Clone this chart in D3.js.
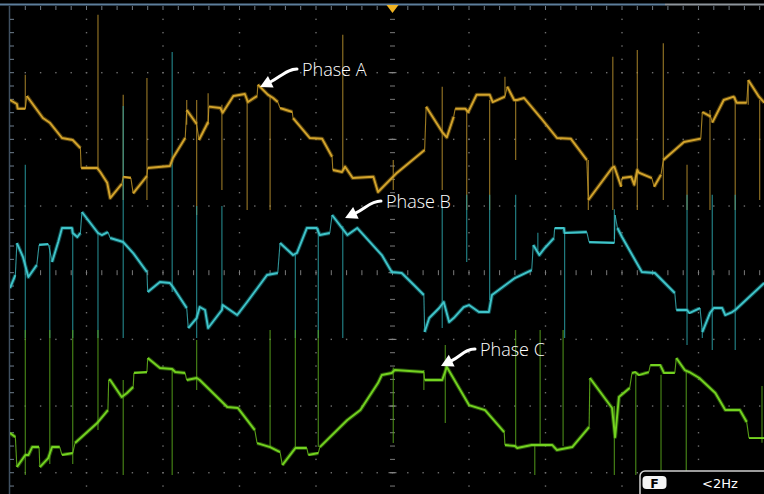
<!DOCTYPE html>
<html>
<head>
<meta charset="utf-8">
<script src="https://cdn.jsdelivr.net/npm/d3@7"></script>
<style>
html,body{margin:0;padding:0;background:#000;overflow:hidden;}
svg{display:block;}
</style>
</head>
<body>
<svg id="chart" width="764" height="494"></svg>
<script>
// ---- Data (x in horizontal divisions, y in vertical divisions, 0 = screen centre) ----
const phaseA = [[0,2.59],[0.09,2.53],[0.10,2.46],[0.20,2.46],[0.22,2.65],[0.43,2.32],[0.52,2.25],[0.68,2.02],[0.82,1.99],[0.92,1.87],[0.93,1.57],[1.14,1.57],[1.18,1.51],[1.27,1.35],[1.31,1.12],[1.46,1.33],[1.48,1.44],[1.58,1.42],[1.61,1.19],[1.79,1.45],[1.80,1.57],[2.09,1.60],[2.13,1.72],[2.29,2.02],[2.31,2.44],[2.44,2.23],[2.47,1.99],[2.59,2.26],[2.60,2.49],[2.75,2.47],[2.78,2.40],[2.92,2.65],[3.07,2.68],[3.11,2.56],[3.23,2.65],[3.24,2.82],[3.37,2.67],[3.44,2.62],[3.50,2.56],[3.53,2.47],[3.69,2.41],[3.70,2.32],[3.92,2.02],[4.08,2.01],[4.21,1.74],[4.22,1.54],[4.34,1.51],[4.38,1.59],[4.48,1.42],[4.75,1.44],[4.81,1.21],[5.06,1.50],[5.42,1.84],[5.44,2.49],[5.65,2.11],[5.71,2.03],[5.80,2.34],[5.82,2.46],[5.95,2.46],[5.99,2.41],[6.10,2.67],[6.27,2.67],[6.31,2.56],[6.47,2.64],[6.50,2.79],[6.59,2.59],[6.63,2.59],[6.72,2.62],[6.94,2.32],[7.15,2.02],[7.33,2.01],[7.54,1.69],[7.56,1.09],[7.87,1.57],[7.90,1.59],[7.99,1.29],[8.00,1.42],[8.12,1.44],[8.16,1.32],[8.20,1.54],[8.22,1.50],[8.39,1.42],[8.42,1.29],[8.51,1.47],[8.54,1.69],[8.81,1.96],[9.03,2.01],[9.05,2.41],[9.16,2.34],[9.18,2.25],[9.33,2.59],[9.46,2.64],[9.50,2.55],[9.63,2.55],[9.65,2.89],[9.79,2.64],[9.86,2.55]];

const phaseB = [[0,-0.23],[0.07,-0.035],[0.09,0.445],[0.17,0.235],[0.24,-0.065],[0.35,0.115],[0.38,0.415],[0.50,0.43],[0.52,0.34],[0.55,0.16],[0.63,0.46],[0.68,0.67],[0.81,0.67],[0.82,0.595],[0.88,0.535],[0.92,0.595],[0.94,0.91],[1.15,0.595],[1.20,0.565],[1.28,0.61],[1.31,0.52],[1.48,0.46],[1.61,0.295],[1.79,0.01],[1.80,-0.29],[1.96,-0.14],[2.09,-0.155],[2.13,-0.215],[2.31,-0.53],[2.33,-0.83],[2.44,-0.68],[2.48,-0.515],[2.55,-0.56],[2.59,-0.83],[2.77,-0.56],[2.78,-0.485],[2.97,-0.635],[3.10,-0.44],[3.36,-0.035],[3.50,-0.005],[3.53,0.445],[3.70,0.265],[3.75,0.295],[3.88,0.67],[4.01,0.67],[4.05,0.565],[4.18,0.595],[4.21,0.865],[4.34,0.67],[4.41,0.565],[4.54,0.67],[4.86,0.265],[4.99,0.01],[5.12,-0.005],[5.28,-0.185],[5.41,-0.335],[5.42,-0.89],[5.48,-0.68],[5.61,-0.53],[5.67,-0.44],[5.74,-0.74],[5.80,-0.68],[5.93,-0.515],[6.00,-0.485],[6.13,-0.59],[6.26,-0.59],[6.30,-0.335],[6.60,-0.08],[6.82,0.04],[6.84,0.415],[6.92,0.265],[6.99,0.37],[7.11,0.52],[7.12,0.67],[7.24,0.67],[7.25,0.595],[7.54,0.61],[7.57,0.46],[7.90,0.445],[7.91,0.865],[7.94,0.67],[8.00,0.535],[8.26,0.01],[8.43,-0.005],[8.69,-0.305],[8.71,-0.56],[8.85,-0.56],[8.88,-0.605],[9.02,-0.53],[9.05,-0.89],[9.15,-0.605],[9.20,-0.53],[9.31,-0.53],[9.35,-0.635],[9.44,-0.59],[9.48,-0.56],[9.86,-0.155]];

const phaseC = [[0,-2.405],[0.07,-2.465],[0.09,-2.915],[0.20,-2.735],[0.24,-2.735],[0.29,-2.615],[0.38,-2.615],[0.39,-2.915],[0.50,-2.78],[0.55,-2.615],[0.65,-2.615],[0.68,-2.735],[0.82,-2.705],[0.85,-2.555],[1.14,-2.255],[1.15,-2.24],[1.28,-2.06],[1.29,-1.61],[1.31,-1.61],[1.46,-1.865],[1.53,-1.805],[1.61,-1.715],[1.62,-1.505],[1.79,-1.49],[1.80,-1.28],[1.96,-1.43],[2.12,-1.445],[2.16,-1.49],[2.29,-1.505],[2.31,-1.61],[2.44,-1.58],[2.48,-1.61],[2.84,-2.015],[2.98,-2.03],[3.20,-2.36],[3.23,-2.555],[3.40,-2.615],[3.53,-2.69],[3.56,-2.885],[3.73,-2.63],[3.88,-2.63],[3.90,-2.735],[4.03,-2.705],[4.05,-2.615],[4.41,-2.21],[4.58,-2.06],[4.81,-1.655],[4.86,-1.535],[4.99,-1.505],[5.03,-1.46],[5.41,-1.49],[5.42,-1.61],[5.65,-1.61],[5.71,-1.415],[6.00,-1.985],[6.21,-2.06],[6.46,-2.39],[6.47,-2.585],[6.60,-2.60],[6.63,-2.63],[6.82,-2.585],[6.93,-2.585],[7.09,-2.585],[7.15,-2.66],[7.35,-2.615],[7.57,-2.315],[7.58,-1.58],[7.87,-2.03],[7.91,-2.465],[7.96,-1.865],[8.10,-1.73],[8.13,-1.505],[8.17,-1.49],[8.22,-1.535],[8.35,-1.49],[8.37,-1.385],[8.50,-1.385],[8.55,-1.505],[8.69,-1.505],[8.71,-1.28],[8.82,-1.46],[8.88,-1.49],[9.01,-1.58],[9.22,-1.805],[9.35,-2.06],[9.54,-2.06],[9.63,-2.24],[9.66,-2.48],[9.86,-2.48]];

// switching spikes: [x, top, bottom]
const spikesA = [[0.20,2.97,2.46],[1.15,3.87,1.54],[1.48,2.67,1.09],[1.79,2.92,1.09],[2.31,2.59,2.22],[2.44,2.59,0.865],[2.59,2.69,2.22],[2.77,2.52,1.24],[3.10,2.59,0.94],[3.40,2.64,0.94],[4.35,3.57,1.54],[5.01,1.69,1.24],[5.65,2.79,1.24],[5.97,2.44,0.94],[6.27,2.59,0.94],[6.47,2.94,2.64],[6.61,2.59,1.69],[7.56,1.69,0.94],[7.88,3.24,0.94],[8.20,3.34,0.94],[8.54,3.44,1.09],[8.85,1.62,0.94],[9.15,2.44,0.94],[9.48,2.64,0.94],[9.65,2.89,2.52],[9.80,2.59,1.09]];
const spikesB = [[0.20,1.62,-0.98],[0.52,0.415,-0.98],[0.82,0.67,-0.98],[1.15,0.61,-0.98],[1.48,2.5,-0.98],[2.12,3.31,-0.29],[2.44,1.0,-0.98],[2.77,1.0,-0.53],[3.73,0.265,-0.98],[4.03,0.67,-0.98],[4.35,0.7,-0.98],[5.65,1.0,-0.83],[5.97,1.17,0.16],[6.27,1.17,-0.41],[6.61,1.17,0.19],[6.90,0.6,0.34],[7.25,0.6,-0.98],[7.90,0.95,0.5],[8.85,1.17,-1.085],[9.05,-0.83,-0.98],[9.18,1.17,-1.16],[9.48,1.17,-1.16]];
const spikesC = [[0.20,-0.86,-3.035],[0.52,-0.86,-2.87],[0.82,-0.86,-2.87],[1.15,-0.86,-2.36],[1.48,-1.61,-3.035],[2.12,-1.46,-3.035],[2.44,-1.01,-1.76],[3.40,-0.86,-2.615],[3.73,-0.86,-2.615],[4.03,-0.86,-2.615],[5.01,-1.42,-2.555],[5.41,-1.46,-1.76],[5.69,-1.085,-2.255],[6.61,-0.86,-2.615],[6.86,-2.585,-3.035],[6.93,-0.86,-2.6],[7.23,-0.86,-2.6],[7.90,-2.0,-3.035],[8.18,-1.53,-3.035],[8.51,-1.53,-3.035],[8.84,-1.46,-3.035],[9.83,-1.7,-2.55]];

const labels = ["Phase A", "Phase B", "Phase C"];
const labelPos = [[3.817, 2.95], [4.915, 0.97], [6.144, -1.25]];
const arrowTips = [[3.268, 2.785], [4.38, 0.82], [5.634, -1.40]];

const majorX = d3.range(0, 11, 1);
const majorY = d3.range(-4, 5, 1);
const minorX = d3.range(0, 10.001, 0.2);
const minorY = d3.range(-4, 4.001, 0.2);

const statusTag = "F";
const statusText = "<2Hz";

// ---- Scales ----
const W = 764, H = 494;
const x = d3.scaleLinear().domain([0, 10]).range([10, 775]);
const y = d3.scaleLinear().domain([4, -4]).range([6, 539.4]);

const svg = d3.select("#chart");
svg.append("rect").attr("width", W).attr("height", H).attr("fill", "#000");

const defs = svg.append("defs");
defs.append("clipPath").attr("id", "plot")
  .append("rect").attr("x", x(0)).attr("y", y(4)).attr("width", W - x(0)).attr("height", H - y(4));
defs.append("filter").attr("id", "soft").append("feGaussianBlur").attr("stdDeviation", 0.7);

// ---- Graticule ----
const grid = svg.append("g");
const visY = minorY.filter(v => y(v) <= H && v < 4);
const visX = minorX.filter(v => x(v) <= W && v > 0);

majorX.filter(v => v > 0 && v !== 5 && x(v) < W).forEach(X => {
  grid.selectAll(null).data(visY).enter().append("rect")
    .attr("x", x(X) - 0.7).attr("y", d => y(d) - 0.7)
    .attr("width", 1.4).attr("height", 1.4).attr("fill", "#6e6e6e");
});
majorY.filter(v => v < 4 && v !== 0 && y(v) < H).forEach(Y => {
  grid.selectAll(null).data(visX).enter().append("rect")
    .attr("x", d => x(d) - 0.7).attr("y", y(Y) - 0.7)
    .attr("width", 1.4).attr("height", 1.4).attr("fill", "#6e6e6e");
});
grid.selectAll(null).data(visY).enter().append("line")
  .attr("x1", x(5) - 2.5).attr("x2", x(5) + 2.5)
  .attr("y1", d => y(d)).attr("y2", d => y(d))
  .attr("stroke", "#7a7a7a").attr("stroke-width", 1);
grid.selectAll(null).data(visX).enter().append("line")
  .attr("y1", y(0) - 2.5).attr("y2", y(0) + 2.5)
  .attr("x1", d => x(d)).attr("x2", d => x(d))
  .attr("stroke", "#7a7a7a").attr("stroke-width", 1);
grid.selectAll(null).data(majorY.filter(v => v < 4 && y(v) < H)).enter().append("line")
  .attr("x1", x(5) - 4).attr("x2", x(5) + 4)
  .attr("y1", d => y(d)).attr("y2", d => y(d))
  .attr("stroke", "#8a8a8a").attr("stroke-width", 1);

svg.append("line").attr("x1", x(0) - 0.5).attr("x2", x(0) - 0.5).attr("y1", y(4)).attr("y2", H)
  .attr("stroke", "#3f4f60").attr("stroke-width", 1.5);
svg.selectAll(null).data(visY).enter().append("line")
  .attr("x1", x(0)).attr("x2", x(0) + 4)
  .attr("y1", d => y(d)).attr("y2", d => y(d))
  .attr("stroke", "#6f7f8f").attr("stroke-width", 1);

svg.append("line").attr("x1", 0).attr("x2", 665).attr("y1", 4.5).attr("y2", 4.5)
  .attr("stroke", "#5d7e9c").attr("stroke-width", 2);
svg.append("line").attr("x1", 665).attr("x2", W).attr("y1", 4.5).attr("y2", 4.5)
  .attr("stroke", "#8e959c").attr("stroke-width", 2);
svg.selectAll(null).data(visX).enter().append("line")
  .attr("x1", d => x(d)).attr("x2", d => x(d))
  .attr("y1", y(4)).attr("y2", y(4) + 4)
  .attr("stroke", "#707a84").attr("stroke-width", 1);

// ---- Traces ----
const plot = svg.append("g").attr("clip-path", "url(#plot)");
const line = d3.line().x(d => x(d[0])).y(d => y(d[1]));

const channels = [
  {data: phaseA, spikes: spikesA, core: "#d3a42c", glow: "#9c7618", spike: "#b08a2c"},
  {data: phaseB, spikes: spikesB, core: "#40c4c9", glow: "#1d8d93", spike: "#2a9ca2"},
  {data: phaseC, spikes: spikesC, core: "#74d220", glow: "#4c9a12", spike: "#56a01c"}
];

// split a trace into continuous runs and fast transitions (drawn thin)
function split(data) {
  const runs = [], jumps = [];
  let cur = [data[0]];
  for (let i = 1; i < data.length; i++) {
    const p = data[i - 1], q = data[i];
    const dxp = Math.abs(x(q[0]) - x(p[0])), dyp = Math.abs(y(q[1]) - y(p[1]));
    if (dxp < 2.5 && dyp > 6) { runs.push(cur); jumps.push([p, q]); cur = [q]; }
    else cur.push(q);
  }
  runs.push(cur);
  return {runs, jumps};
}

channels.forEach(ch => {
  plot.selectAll(null).data(ch.spikes).enter().append("line")
    .attr("x1", d => x(d[0])).attr("x2", d => x(d[0]))
    .attr("y1", d => y(d[1])).attr("y2", d => y(d[2]))
    .attr("stroke", ch.spike).attr("stroke-width", 1.2).attr("opacity", 0.8);
});
channels.forEach(ch => {
  const s = split(ch.data);
  plot.selectAll(null).data(s.jumps).enter().append("path")
    .attr("d", d => line(d)).attr("fill", "none")
    .attr("stroke", ch.core).attr("stroke-width", 1.1).attr("opacity", 0.75);
  const runs = s.runs.filter(r => r.length > 1);
  plot.selectAll(null).data(runs).enter().append("path")
    .attr("d", d => line(d)).attr("fill", "none")
    .attr("stroke", ch.glow).attr("stroke-width", 4).attr("opacity", 0.5)
    .attr("stroke-linejoin", "round").attr("filter", "url(#soft)");
  plot.selectAll(null).data(runs).enter().append("path")
    .attr("d", d => line(d)).attr("fill", "none")
    .attr("stroke", ch.core).attr("stroke-width", 1.9)
    .attr("stroke-linejoin", "round");
});

// ---- Annotations ----
const ann = svg.append("g");
labels.forEach((lab, i) => {
  const tx = x(labelPos[i][0]), ty = y(labelPos[i][1]);
  ann.append("text").attr("x", tx).attr("y", ty)
    .attr("fill", "#ffffff").attr("font-family", "'Open Sans', 'Noto Sans', sans-serif")
    .attr("font-size", 18).attr("font-weight", 300).text(lab);
  const S = [tx - 5, ty - 7];
  const T = [x(arrowTips[i][0]), y(arrowTips[i][1])];
  const dx = T[0] - S[0], dy = T[1] - S[1], len = Math.hypot(dx, dy);
  const d = [dx / len, dy / len];
  const B = [T[0] - 12 * d[0], T[1] - 12 * d[1]];
  const p = d3.path();
  p.moveTo(S[0], S[1]);
  p.bezierCurveTo(S[0] - 10, S[1], B[0] - 6 * d[0] + 4, B[1] - 6 * d[1] - 2, B[0], B[1]);
  ann.append("path").attr("d", p.toString()).attr("fill", "none")
    .attr("stroke", "#fff").attr("stroke-width", 3).attr("stroke-linecap", "round");
  const perp = [-d[1], d[0]];
  const w = 6.5;
  ann.append("path")
    .attr("d", `M${T[0]},${T[1]}L${B[0] + w * perp[0]},${B[1] + w * perp[1]}L${B[0] - w * perp[0]},${B[1] - w * perp[1]}Z`)
    .attr("fill", "#fff");
});

// ---- Trigger marker ----
const tp = x(5);
svg.append("path").attr("d", `M${tp - 6},5 L${tp + 6},5 L${tp},13 Z`).attr("fill", "#f0b322");

// ---- Status box ----
const sb = svg.append("g");
sb.append("rect").attr("x", 640).attr("y", 471).attr("width", 140).attr("height", 30).attr("rx", 5)
  .attr("fill", "#000").attr("stroke", "#d0d0d0").attr("stroke-width", 1.5);
sb.append("rect").attr("x", 642.5).attr("y", 476).attr("width", 24).attr("height", 13).attr("rx", 4)
  .attr("fill", "#f4f4f4");
sb.append("text").attr("x", 654.5).attr("y", 487.5).attr("text-anchor", "middle")
  .attr("font-family", "'DejaVu Sans', sans-serif").attr("font-weight", "bold").attr("font-size", 12.5)
  .attr("fill", "#000").text(statusTag);
sb.append("text").attr("x", 720).attr("y", 488).attr("text-anchor", "middle")
  .attr("font-family", "'DejaVu Sans', sans-serif").attr("font-size", 13)
  .attr("fill", "#fff").text(statusText);
</script>
</body>
</html>
